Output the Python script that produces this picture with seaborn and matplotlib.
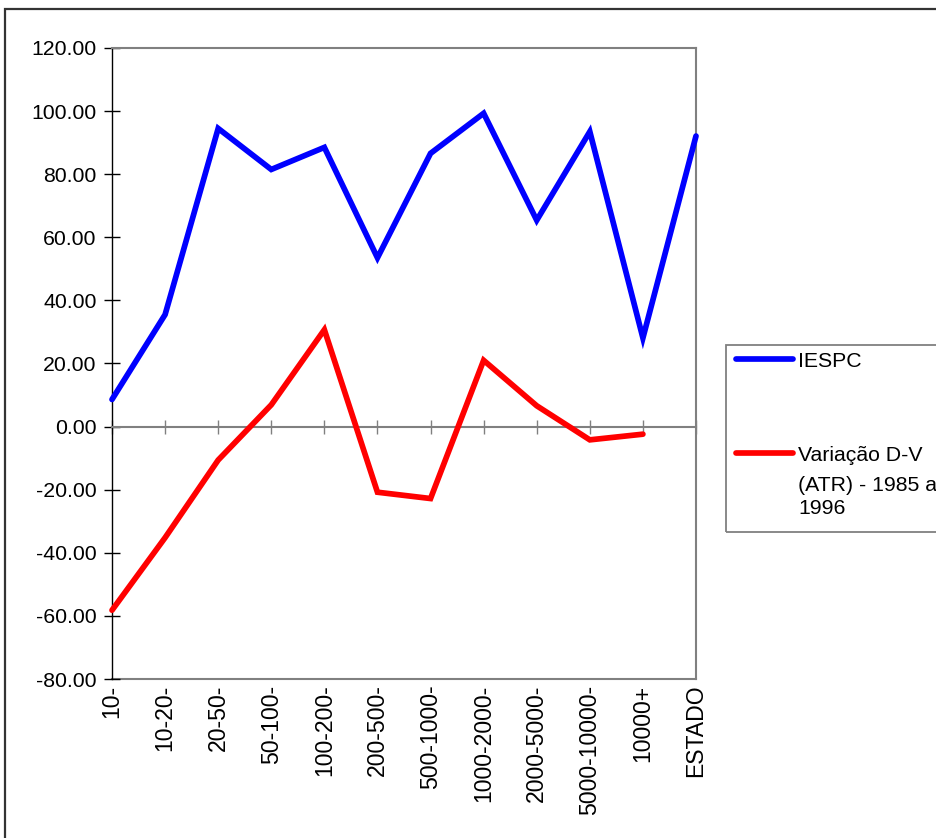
import numpy as np
import pandas as pd
import matplotlib
matplotlib.use("Agg")
import matplotlib.pyplot as plt
import seaborn as sns
from matplotlib.patches import Rectangle
from matplotlib.ticker import FormatStrFormatter, MultipleLocator

# Faixas de área e séries
faixas = ["10-", "10-20-", "20-50-", "50-100-", "100-200-", "200-500-",
          "500-1000-", "1000-2000-", "2000-5000-", "5000-10000-", "10000+", "ESTADO"]
iespc = [8.6, 35.5, 94.5, 81.5, 88.5, 53.5, 86.6, 99.3, 65.4, 93.5, 28.1, 92.1]
variacao_dv = [-58.2, -35.2, -10.6, 6.9, 30.7, -20.8, -22.8, 21.0, 6.6, -4.2, -2.4, np.nan]

serie_iespc = "IESPC"
serie_dv = "Variação D-V"
serie_dv_cont = "(ATR) - 1985 a\n1996"

df = pd.DataFrame({
    "faixa": faixas * 2,
    "valor": iespc + variacao_dv,
    "serie": [serie_iespc] * len(faixas) + [serie_dv] * len(faixas),
})

sns.set_style("white")
plt.rcParams["font.family"] = ["Liberation Sans", "DejaVu Sans"]
plt.rcParams["axes.unicode_minus"] = False
plt.rcParams["text.color"] = "black"

W, H = 936, 838
fs = 15.3
gray = "#808080"

fig = plt.figure(figsize=(W / 100, H / 100), dpi=100, facecolor="white")
ax = fig.add_axes([112 / W, 1 - 679 / H, (696 - 112) / W, (679 - 48) / H])

sns.lineplot(data=df, x="faixa", y="valor", hue="serie",
             palette={serie_iespc: "#0000FF", serie_dv: "#FF0000"},
             sort=False, linewidth=4.1, legend=False, ax=ax)
for ln in ax.lines:
    ln.set_solid_capstyle("round")
    ln.set_solid_joinstyle("miter")
    ln.set_clip_on(False)
    ln.set_zorder(5)

ax.set_xlim(0, len(faixas) - 1)
ax.set_ylim(-80, 120)
ax.set_xlabel("")
ax.set_ylabel("")

# eixo Y
ax.yaxis.set_major_locator(MultipleLocator(20))
ax.yaxis.set_major_formatter(FormatStrFormatter("%.2f"))
ax.tick_params(axis="y", direction="inout", length=12, width=1.0, color="black",
               pad=5, labelsize=fs, labelcolor="black", left=True)

# eixo das categorias passa pelo zero
ax.set_xticks(range(len(faixas)))
ax.spines["bottom"].set_position(("data", 0))
ax.tick_params(axis="x", direction="inout", length=10, width=1.0, color=gray,
               labelbottom=False, bottom=True)

ax.spines["left"].set_color("black")
ax.spines["left"].set_linewidth(1.0)
for s in ("bottom", "top", "right"):
    ax.spines[s].set_color(gray)
    ax.spines[s].set_linewidth(1.5)
    ax.spines[s].set_visible(True)

# rótulos das categorias na base do gráfico
secx = ax.secondary_xaxis("bottom")
secx.set_xticks(range(len(faixas)), labels=faixas)
secx.tick_params(axis="x", length=0, pad=4, labelsize=fs * 1.08, labelrotation=90,
                 labelcolor="black")
secx.spines["bottom"].set_color(gray)
secx.spines["bottom"].set_linewidth(1.5)

# legenda
hl = 57 / 21.25
fig.legend(handles=[ax.lines[0]], labels=[serie_iespc], loc="center left",
           bbox_to_anchor=(736 / W, 1 - 361 / H), frameon=False, borderpad=0,
           borderaxespad=0, handlelength=hl, handletextpad=0.22, fontsize=fs,
           labelcolor="black")
fig.legend(handles=[ax.lines[1]], labels=[serie_dv], loc="center left",
           bbox_to_anchor=(736 / W, 1 - 455 / H), frameon=False, borderpad=0,
           borderaxespad=0, handlelength=hl, handletextpad=0.22, fontsize=fs,
           labelcolor="black")
fig.text(798 / W, 1 - 476 / H, serie_dv_cont, ha="left", va="top",
         fontsize=fs, linespacing=1.25, color="black")
fig.patches.append(Rectangle((726 / W, 1 - 532 / H), 0.5, (532 - 345) / H,
                             transform=fig.transFigure, fill=False,
                             edgecolor=gray, linewidth=1.3))

# moldura da área do gráfico
fig.patches.append(Rectangle((5 / W, -0.2), 1.3, 1.2 - 9 / H,
                             transform=fig.transFigure, fill=False,
                             edgecolor="#333333", linewidth=1.6))

fig.savefig("out.png", dpi=100, facecolor="white")
